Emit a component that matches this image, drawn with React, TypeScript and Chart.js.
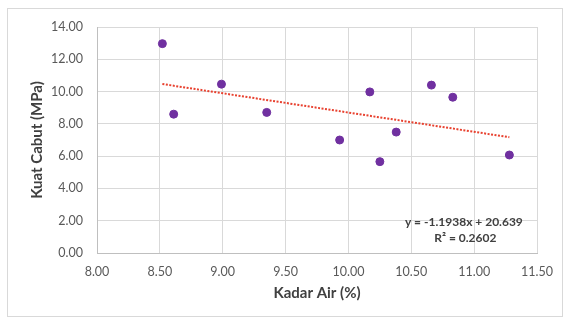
import React, { useEffect, useRef } from "react";
import { Chart, registerables } from "chart.js";

Chart.register(...registerables);

const kadarAir = [8.52, 8.61, 8.99, 9.35, 9.93, 10.17, 10.25, 10.38, 10.66, 10.83, 11.28];
const kuatCabut = [12.97, 8.6, 10.46, 8.71, 7.0, 9.98, 5.66, 7.49, 10.4, 9.65, 6.07];
const slope = -1.1938;
const intercept = 20.639;
const equationText = "y = -1.1938x + 20.639";
const r2Text = "R² = 0.2602";
const xTitle = "Kadar Air (%)";
const yTitle = "Kuat Cabut (MPa)";

const FONT = "Lato, 'Open Sans', sans-serif";

export default function App() {
  const ref = useRef<HTMLCanvasElement | null>(null);
  useEffect(() => {
    if (!ref.current) return;
    const points = kadarAir.map((x, i) => ({ x, y: kuatCabut[i] }));
    const xmin = Math.min(...kadarAir);
    const xmax = Math.max(...kadarAir);
    const trend = [xmin, xmax].map((x) => ({ x, y: slope * x + intercept }));

    const bgPlugin = {
      id: "bg",
      beforeDraw(chart: any) {
        const ctx = chart.ctx;
        ctx.save();
        ctx.fillStyle = "#ffffff";
        ctx.fillRect(0, 0, chart.width, chart.height);
        ctx.strokeStyle = "#d9d9d9";
        ctx.lineWidth = 1;
        ctx.strokeRect(7.5, 8.5, 555, 308);
        ctx.restore();
      },
    };
    const eqPlugin = {
      id: "eq",
      afterDraw(chart: any) {
        const ctx = chart.ctx;
        const xs = chart.scales.x;
        const ys = chart.scales.y;
        ctx.save();
        ctx.fillStyle = "#404040";
        ctx.font = `bold 12px ${FONT}`;
        ctx.textAlign = "center";
        ctx.textBaseline = "middle";
        ctx.fillText(equationText, xs.getPixelForValue(10.918), ys.getPixelForValue(1.9));
        ctx.fillText(r2Text, xs.getPixelForValue(10.93), ys.getPixelForValue(0.9));
        ctx.restore();
      },
    };

    const chart = new Chart(ref.current, {
      type: "scatter",
      data: {
        datasets: [
          {
            type: "line",
            data: trend,
            borderColor: "#e8412f",
            borderWidth: 2,
            borderDash: [2, 1.5],
            pointRadius: 0,
            fill: false,
          } as any,
          {
            data: points,
            backgroundColor: "#7030A0",
            borderColor: "#7030A0",
            pointRadius: 4,
            pointHoverRadius: 4,
          },
        ],
      },
      options: {
        animation: false,
        responsive: false,
        events: [],
        layout: { padding: { left: 0, top: 27, right: 26, bottom: 0 } },
        plugins: { legend: { display: false }, tooltip: { enabled: false } },
        scales: {
          x: {
            type: "linear",
            min: 8,
            max: 11.5,
            afterFit: (s: any) => {
              s.height = 67;
            },
            ticks: {
              stepSize: 0.5,
              callback: (v: any) => Number(v).toFixed(2),
              color: "#595959",
              font: { family: FONT, size: 12.5 },
              padding: 11,
              maxRotation: 0,
            },
            grid: { color: "#d9d9d9", drawTicks: false },
            border: { color: "#bfbfbf" },
            title: {
              display: true,
              text: xTitle,
              color: "#404040",
              font: { family: FONT, size: 15, weight: "bold" },
              padding: { top: 0, bottom: 18 },
            },
          },
          y: {
            min: 0,
            max: 14,
            afterFit: (s: any) => {
              s.width = 97;
            },
            ticks: {
              stepSize: 2,
              callback: (v: any) => Number(v).toFixed(2),
              color: "#595959",
              font: { family: FONT, size: 12.5 },
              padding: 14,
            },
            grid: { color: "#d9d9d9", drawTicks: false },
            border: { color: "#bfbfbf" },
            title: {
              display: true,
              text: yTitle,
              color: "#404040",
              font: { family: FONT, size: 15, weight: "bold" },
              padding: { top: 28, bottom: 0 },
            },
          },
        },
      },
      plugins: [bgPlugin, eqPlugin],
    });
    return () => chart.destroy();
  }, []);
  return (
    <div style={{ position: "absolute", left: 0, top: 0, width: 564, height: 320 }}>
      <canvas ref={ref} width={564} height={320} style={{ width: 564, height: 320 }} />
    </div>
  );
}
